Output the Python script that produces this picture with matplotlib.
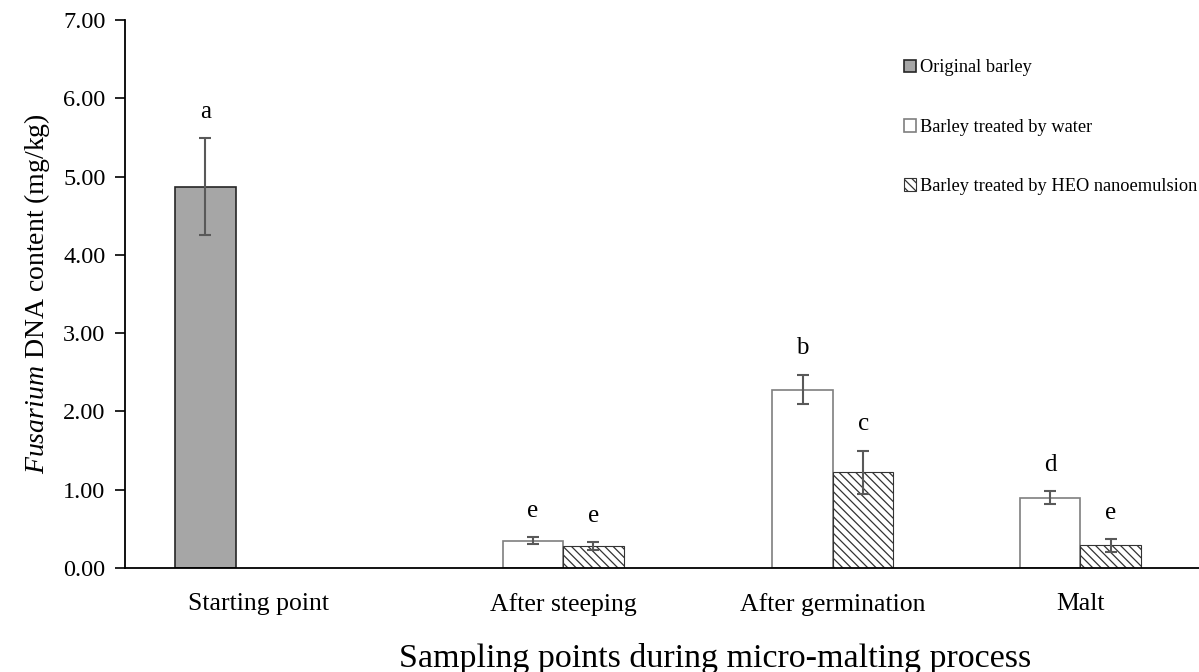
import numpy as np
import matplotlib.pyplot as plt

plt.rcParams['font.family'] = ['Liberation Serif', 'DejaVu Serif']
plt.rcParams['mathtext.fontset'] = 'custom'
plt.rcParams['mathtext.it'] = 'Liberation Serif:italic'
plt.rcParams['mathtext.rm'] = 'Liberation Serif'
plt.rcParams['hatch.linewidth'] = 0.9

# ---- data ----
stages = ['Starting point', 'After steeping', 'After germination', 'Malt']
original = [4.87]
original_err = [0.62]
water = [0.35, 2.28, 0.90]
water_err = [0.04, 0.19, 0.08]
heo = [0.28, 1.22, 0.29]
heo_err = [0.05, 0.28, 0.08]
letters_original = ['a']
letters_water = ['e', 'b', 'd']
letters_heo = ['e', 'c', 'e']

# ---- layout ----
stage_x = np.array([2.20, 7.24, 11.70, 15.79])
bar_w = 1.0
err_color = '#595959'

fig = plt.figure(figsize=(11.99, 6.72), dpi=100)
ax = fig.add_axes([125 / 1199, 104 / 672, 1 - 125 / 1199, 548 / 672])

err_kw = dict(ecolor=err_color, elinewidth=1.5, capsize=4, capthick=1.5)

x_orig = stage_x[:1] - 0.87
x_water = stage_x[1:] - bar_w / 2
x_heo = stage_x[1:] + bar_w / 2

ax.bar(x_orig, original, bar_w, yerr=original_err, color='#a6a6a6',
       edgecolor='#262626', linewidth=1.2, error_kw=err_kw,
       label='Original barley')
ax.bar(x_water, water, bar_w, yerr=water_err, color='white',
       edgecolor='#7f7f7f', linewidth=1.2, error_kw=err_kw,
       label='Barley treated by water')
ax.bar(x_heo, heo, bar_w, yerr=heo_err, color='white',
       edgecolor='#333333', hatch='\\\\\\\\', linewidth=0.8, error_kw=err_kw,
       label='Barley treated by HEO nanoemulsion')

# significance letters above the error bars
for xs, vals, errs, labs in [(x_orig, original, original_err, letters_original),
                             (x_water, water, water_err, letters_water),
                             (x_heo, heo, heo_err, letters_heo)]:
    for x, v, e, t in zip(xs, vals, errs, labs):
        ax.annotate(t, (x, v + e), xytext=(0, 11), textcoords='offset points',
                    ha='center', va='bottom', fontsize=18)

ax.set_xlim(0, 17.75)
ax.set_ylim(0, 7)
ax.set_yticks(np.arange(0, 7.01, 1))
ax.set_yticklabels([f'{v:.2f}' for v in np.arange(0, 7.01, 1)])
ax.set_xticks(stage_x)
ax.set_xticklabels(stages)
ax.tick_params(axis='y', labelsize=17.5, length=7, width=1.2, direction='out', pad=7)
ax.tick_params(axis='x', labelsize=18.5, length=0, pad=18)

for s in ['top', 'right']:
    ax.spines[s].set_visible(False)
for s in ['left', 'bottom']:
    ax.spines[s].set_linewidth(1.3)

ax.set_ylabel(r'$\mathit{Fusarium}$ DNA content (mg/kg)', fontsize=20)
ax.yaxis.set_label_coords(-0.068, 0.5)
ax.set_xlabel('Sampling points during micro-malting process', fontsize=24.5)
ax.xaxis.set_label_coords(0.549, -0.137)

ax.legend(loc='upper left', bbox_to_anchor=(0.725, 0.928), frameon=False,
          fontsize=13.2, handlelength=0.7, handleheight=0.7, handletextpad=0.2,
          labelspacing=2.3, borderpad=0, borderaxespad=0)

fig.savefig('out.png', dpi=100)
